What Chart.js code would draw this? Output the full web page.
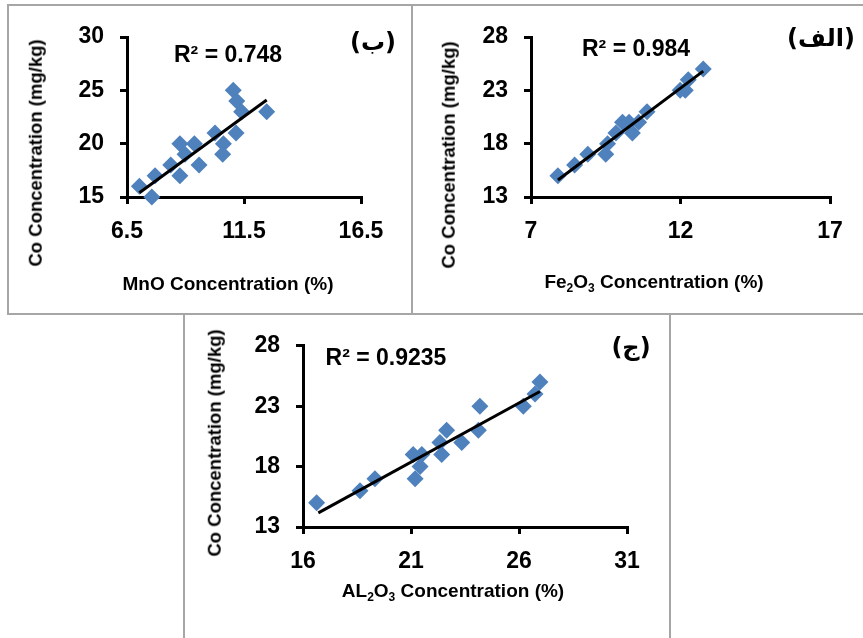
<!DOCTYPE html>
<html>
<head>
<meta charset="utf-8">
<script src="https://cdn.jsdelivr.net/npm/chart.js@4.4.1/dist/chart.umd.min.js"></script>
<style>
  body { margin: 0; background: #fff; }
  #page { position: relative; width: 863px; height: 638px; overflow: hidden; font-family: "Liberation Sans", Arial, sans-serif; }
  .line { position: absolute; background: #a6a6a6; }
  canvas { position: absolute; }
  .lbl { position: absolute; white-space: nowrap; font-weight: bold; color: #000; line-height: 1; transform: translate(-50%, -50%); }
  .rot { transform: translate(-50%, -50%) rotate(-90deg); }
  .ar { font-family: "DejaVu Sans", sans-serif; direction: rtl; }
</style>
</head>
<body>
<div id="page">
  <div class="line" style="left:8px;top:4px;width:855px;height:2px"></div>
  <div class="line" style="left:7px;top:4px;width:2px;height:311px"></div>
  <div class="line" style="left:411px;top:4px;width:2px;height:311px"></div>
  <div class="line" style="left:8px;top:313px;width:855px;height:2px"></div>
  <div class="line" style="left:183px;top:313px;width:2px;height:325px"></div>
  <div class="line" style="left:669px;top:313px;width:2px;height:325px"></div>

  <canvas id="mnoChart" width="400" height="305" style="left:10px;top:7px"></canvas>
  <canvas id="feChart" width="449" height="305" style="left:414px;top:7px"></canvas>
  <canvas id="alChart" width="483" height="322" style="left:186px;top:316px"></canvas>

  <div class="lbl rot" style="left:36px;top:153px;font-size:18.5px">Co Concentration (mg/kg)</div>
  <div class="lbl" style="left:228px;top:283px;font-size:19px">MnO Concentration (%)</div>
  <div class="lbl" style="left:228px;top:54px;font-size:23px">R² = 0.748</div>
  <div class="lbl ar" style="left:373px;top:42px;font-size:24px">(ب)</div>

  <div class="lbl rot" style="left:449px;top:155px;font-size:18.5px">Co Concentration (mg/kg)</div>
  <div class="lbl" style="left:654px;top:283px;font-size:19px">Fe<sub style="font-size:12px">2</sub>O<sub style="font-size:12px">3</sub> Concentration (%)</div>
  <div class="lbl" style="left:636px;top:48px;font-size:23px">R² = 0.984</div>
  <div class="lbl ar" style="left:821px;top:38px;font-size:24px">(الف)</div>

  <div class="lbl rot" style="left:215px;top:443px;font-size:18.5px">Co Concentration (mg/kg)</div>
  <div class="lbl" style="left:453px;top:592px;font-size:19px">AL<sub style="font-size:12px">2</sub>O<sub style="font-size:12px">3</sub> Concentration (%)</div>
  <div class="lbl" style="left:386px;top:357px;font-size:23px">R² = 0.9235</div>
  <div class="lbl ar" style="left:631px;top:347px;font-size:24px">(ج)</div>
</div>

<script>
// (ب) MnO vs Co
const mnoX = [7.03, 7.56, 7.7, 8.37, 8.76, 8.76, 8.98, 9.38, 9.58, 10.26, 10.62, 10.59, 11.16, 11.04, 11.19, 11.4, 12.47];
const mnoCo = [16, 15, 17, 18, 20, 17, 19, 20, 18, 21, 20, 19, 21, 25, 24, 23, 23];
const mnoTrendX = [7.03, 12.47];
const mnoTrendY = [15.4, 24.1];
const mnoXTicks = [6.5, 11.5, 16.5];
const mnoYTicks = [15, 20, 25, 30];

// (الف) Fe2O3 vs Co
const feX = [7.9, 8.46, 8.9, 9.5, 9.56, 9.84, 10.06, 10.28, 10.39, 10.6, 10.88, 11.99, 12.16, 12.26, 12.76];
const feCo = [15, 16, 17, 17, 18, 19, 20, 20, 19, 20, 21, 23, 23, 24, 25];
const feTrendX = [7.9, 12.76];
const feTrendY = [14.6, 24.8];
const feXTicks = [7, 12, 17];
const feYTicks = [13, 18, 23, 28];

// (ج) Al2O3 vs Co
const alX = [16.63, 18.64, 19.33, 21.19, 21.1, 21.5, 21.42, 22.42, 22.34, 22.65, 23.35, 24.12, 24.19, 26.2, 26.74, 26.97];
const alCo = [15, 16, 17, 17, 19, 19, 18, 19, 20, 21, 20, 21, 23, 23, 24, 25];
const alTrendX = [16.71, 26.97];
const alTrendY = [14.17, 24.22];
const alXTicks = [16, 21, 26, 31];
const alYTicks = [13, 18, 23, 28];

const tickFont = { family: "'Liberation Sans', Arial, sans-serif", size: 23, weight: "bold" };

function toPoints(xs, ys) {
  return xs.map((x, i) => ({ x: x, y: ys[i] }));
}

function axis(ticks, isX, size) {
  return {
    type: "linear",
    min: ticks[0],
    max: ticks[ticks.length - 1],
    afterBuildTicks: (s) => { s.ticks = ticks.map((v) => ({ value: v })); },
    afterFit: (s) => { if (isX) s.height = size; else s.width = size; },
    grid: { drawOnChartArea: false, drawTicks: true, tickLength: 7, color: "#000", lineWidth: 3 },
    border: { color: "#000", width: 3 },
    ticks: { color: "#000", font: tickFont, padding: isX ? 14 : 16 },
  };
}

function makeChart(id, xs, ys, tx, ty, xTicks, yTicks, pad) {
  const ctx = document.getElementById(id).getContext("2d");
  return new Chart(ctx, {
    type: "scatter",
    data: {
      datasets: [
        {
          data: toPoints(tx, ty),
          showLine: true,
          borderColor: "#000",
          borderWidth: 3,
          pointRadius: 0,
          order: 0,
          clip: false,
        },
        {
          data: toPoints(xs, ys),
          pointStyle: "rectRot",
          pointRadius: 8.5,
          backgroundColor: "#4f81bd",
          borderColor: "#4f81bd",
          borderWidth: 0,
          order: 1,
          clip: false,
        },
      ],
    },
    options: {
      responsive: false,
      animation: false,
      layout: { autoPadding: false, padding: pad },
      plugins: { legend: { display: false }, tooltip: { enabled: false } },
      scales: {
        x: axis(xTicks, true, 60),
        y: axis(yTicks, false, 117),
      },
    },
  });
}

makeChart("mnoChart", mnoX, mnoCo, mnoTrendX, mnoTrendY, mnoXTicks, mnoYTicks,
  { left: 0, top: 30, right: 49, bottom: 55 });
makeChart("feChart", feX, feCo, feTrendX, feTrendY, feXTicks, feYTicks,
  { left: 0, top: 30, right: 33, bottom: 55 });
makeChart("alChart", alX, alCo, alTrendX, alTrendY, alXTicks, alYTicks,
  { left: 0, top: 27, right: 42, bottom: 51 });
</script>
</body>
</html>
